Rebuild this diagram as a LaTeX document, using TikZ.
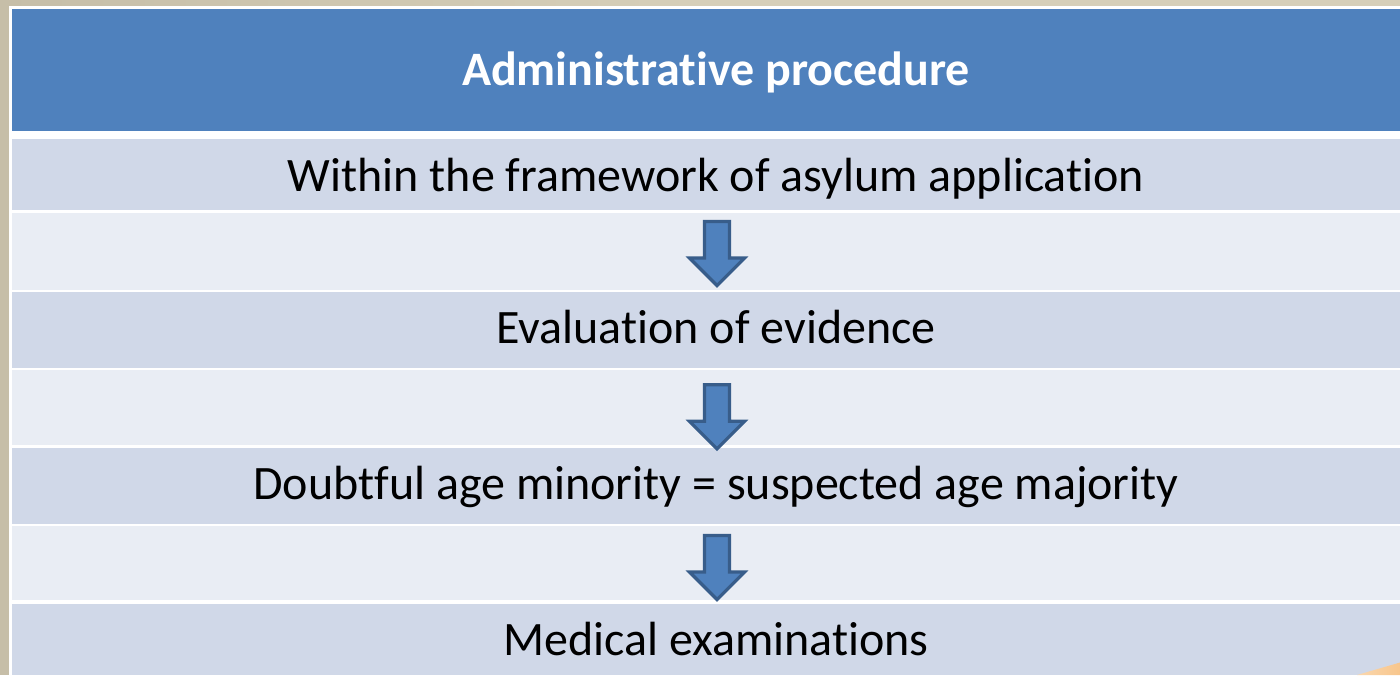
\documentclass[tikz,border=0pt]{standalone}
\usepackage{fontspec}
\setmainfont{Carlito}[Ligatures=NoCommon]
\begin{document}
\begin{tikzpicture}[x=1pt,y=-1pt,
  hdrcell/.style={draw=none,fill=hdrblue,inner sep=0pt,anchor=north west},
  darkcell/.style={draw=none,fill=rowdark,inner sep=0pt,anchor=north west},
  lightcell/.style={draw=none,fill=rowlight,inner sep=0pt,anchor=north west},
  celltext/.style={anchor=base,inner sep=0pt,font=\fontsize{48}{54}\selectfont,text=black},
  hdrtext/.style={anchor=base,inner sep=0pt,font=\fontsize{48}{54}\selectfont\bfseries,text=white},
  blockarrow/.style={draw=arrowedge,fill=hdrblue,line width=3.2pt,line join=miter}
]
\definecolor{hdrblue}{HTML}{4F81BD}
\definecolor{rowdark}{HTML}{D0D8E8}
\definecolor{rowlight}{HTML}{E9EDF4}
\definecolor{arrowedge}{HTML}{385D8A}
\definecolor{paper}{HTML}{C6BEA8}
\definecolor{paperlight}{HTML}{D6CFB9}
\definecolor{peach}{HTML}{F8C68C}

\useasboundingbox (0,0) rectangle (1400,675);

% textured paper behind the table
\fill[paper] (0,0) rectangle (1400,675);
\shade[left color=paper,right color=paperlight,middle color=paperlight] (0,0) rectangle (1400,6);
\fill[white] (9.3,5.7) rectangle (1400,675);

% header and the seven table rows
\node[hdrcell,minimum width=1388pt,minimum height=122.3pt] (hdr) at (12,8.7) {};
\node[darkcell,minimum width=1388pt,minimum height=71pt] (r1) at (12,139) {};
\node[lightcell,minimum width=1388pt,minimum height=77pt] (r2) at (12,212.3) {};
\node[darkcell,minimum width=1388pt,minimum height=75.5pt] (r3) at (12,292.2) {};
\node[lightcell,minimum width=1388pt,minimum height=75pt] (r4) at (12,370) {};
\node[darkcell,minimum width=1388pt,minimum height=75.6pt] (r5) at (12,447.7) {};
\node[lightcell,minimum width=1388pt,minimum height=74.5pt] (r6) at (12,525.7) {};
\node[darkcell,minimum width=1388pt,minimum height=71.3pt] (r7) at (12,603.7) {};

% row texts
\node[hdrtext] (th) at (716,85) {Administrative procedure};
\node[celltext] (t1) at (716,191.7) {Within the framework of asylum application};
\node[celltext] (t3) at (716,343.3) {Evaluation of evidence};
\node[celltext] (t5) at (716,499.8) {Doubtful age minority = suspected age majority};
\node[celltext] (t7) at (716,655.8) {Medical examinations};

% down arrows between the steps
\foreach \name/\top in {a1/221.5, a2/384.8, a3/535.5}{
  \coordinate (\name) at (717,\top);
  \draw[blockarrow] ([xshift=-12.5pt]\name) -- ([xshift=12.5pt]\name)
    -- ([xshift=12.5pt,yshift=-36.5pt]\name) -- ([xshift=27.5pt,yshift=-36.5pt]\name)
    -- ([yshift=-64pt]\name) -- ([xshift=-27.5pt,yshift=-36.5pt]\name)
    -- ([xshift=-12.5pt,yshift=-36.5pt]\name) -- cycle;
}

% corner of a shape peeking in at the bottom right
\shade[left color=peach!70!white,right color=peach] (1357,675) -- (1400,662.5) -- (1400,675) -- cycle;
\end{tikzpicture}
\end{document}
